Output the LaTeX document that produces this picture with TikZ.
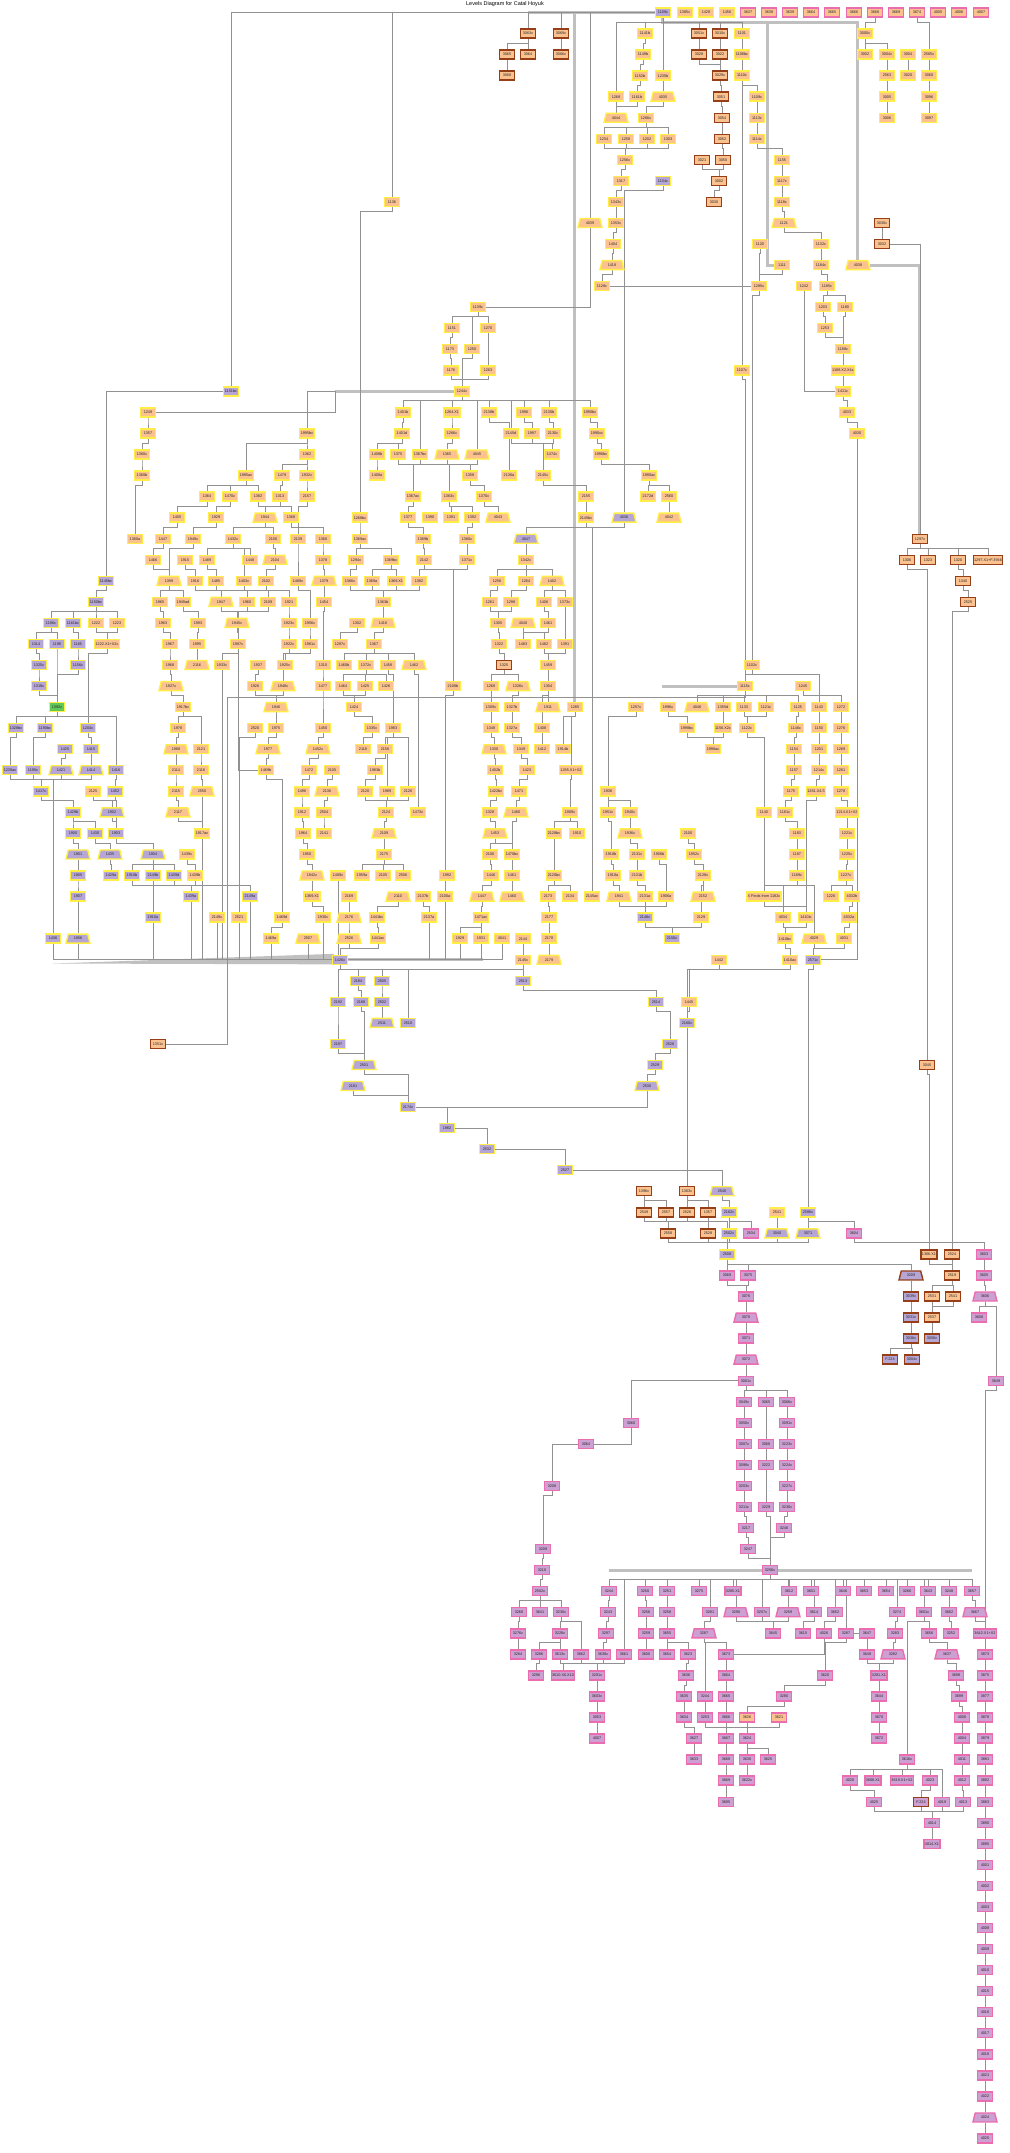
\documentclass[tikz,border=0pt]{standalone}
\usepackage{fontspec}
\setmainfont{Liberation Sans}
\usetikzlibrary{shapes.geometric}
\pgfdeclarelayer{background}
\pgfsetlayers{background,main}
\definecolor{corg}{RGB}{251,194,144}
\definecolor{cyel}{RGB}{255,238,70}
\definecolor{cpur}{RGB}{182,166,214}
\definecolor{clav}{RGB}{204,160,210}
\definecolor{cpnk}{RGB}{236,108,176}
\definecolor{cbrn}{RGB}{150,62,24}
\definecolor{cgrn}{RGB}{96,200,88}
\definecolor{cedge}{RGB}{145,145,145}
\definecolor{cbus}{RGB}{192,192,192}
\newcommand\mkn[5]{\node[#1] (#2) at (#3,#4) {#5};}
\newcommand\lnk[2]{\draw[ed] (#1.south) -- ++(0,0.2) -| (#2.north);}
\tikzset{
 nb/.style={rectangle, minimum width=15pt, minimum height=9pt, inner sep=0.8pt, line width=1.4pt, font=\fontsize{3.8}{4}\selectfont, text=black!85},
 trap/.style={trapezium, trapezium angle=62, trapezium stretches body, minimum width=24pt},
 so/.style={nb, fill=corg, draw=cyel},
 sot/.style={so, trap},
 sp/.style={nb, fill=cpur, draw=cyel},
 spt/.style={sp, trap},
 sg/.style={nb, fill=cgrn, draw=cyel},
 sb/.style={nb, fill=corg, draw=cbrn},
 sbp/.style={nb, fill=cpur, draw=cbrn},
 sbt/.style={sbp, trap},
 sk/.style={nb, fill=clav, draw=cpnk},
 skt/.style={sk, trap},
 sko/.style={nb, fill=corg, draw=cpnk},
 skb/.style={nb, fill=clav, draw=cbrn},
 ed/.style={draw=cedge, line width=0.6pt},
 bus/.style={draw=cbus, line width=3pt},
}
\begin{document}
\begin{tikzpicture}[x=1pt, y=-21.05pt]
\useasboundingbox (0,-0.594) rectangle (1010,101.69);
\node[font=\fontsize{5.5}{6}\selectfont] (title) at (505,-0.42) {Levels Diagram for Catal Hoyuk};
% r0
\mkn{sp}{n1109c}{663}{0}{1109c}
\mkn{so}{n1385c}{685}{0}{1385c}\mkn{so}{n1428}{706}{0}{1428}\mkn{so}{n1456}{727}{0}{1456}
\mkn{sko}{n3637}{748}{0}{3637}\mkn{sko}{n3638}{769}{0}{3638}\mkn{sko}{n3639}{790}{0}{3639}
\mkn{sko}{n3664}{811}{0}{3664}\mkn{sko}{n3665}{832}{0}{3665}\mkn{sko}{n3666}{854}{0}{3666}
\mkn{sko}{n3668}{875}{0}{3668}\mkn{sko}{n3669}{896}{0}{3669}\mkn{sko}{n3674}{917}{0}{3674}
\mkn{sko}{n4005}{938}{0}{4005}\mkn{sko}{n4006}{959}{0}{4006}\mkn{sko}{n4007}{981}{0}{4007}
% r1
\mkn{sb}{n3063c}{528}{1}{3063c}\mkn{sb}{n3069c}{561}{1}{3069c}\mkn{so}{n1141b}{645}{1}{1141b}
\mkn{sb}{n3051c}{699}{1}{3051c}\mkn{sb}{n3010c}{720}{1}{3010c}\mkn{so}{n1101}{742}{1}{1101}\mkn{so}{n3000c}{865}{1}{3000c}
% r2
\mkn{sb}{n3065}{507}{2}{3065}\mkn{sb}{n3064}{528}{2}{3064}\mkn{sb}{n3066c}{561}{2}{3066c}\mkn{so}{n1149b}{643}{2}{1149b}
\mkn{sb}{n3028}{699}{2}{3028}\mkn{sb}{n3022}{720}{2}{3022}\mkn{so}{n1108bc}{742}{2}{1108bc}\mkn{so}{n3002}{865}{2}{3002}
\mkn{so}{n3004c}{887}{2}{3004c}\mkn{so}{n3004}{908}{2}{3004}\mkn{so}{n2565c}{929}{2}{2565c}
% r3
\mkn{sb}{n3068}{507}{3}{3068}\mkn{so}{n1152b}{640}{3}{1152b}\mkn{so}{n1235b}{663}{3}{1235b}\mkn{sb}{n3029c}{720}{3}{3029c}
\mkn{so}{n1110c}{742}{3}{1110c}\mkn{so}{n2563}{887}{3}{2563}\mkn{so}{n3020}{908}{3}{3020}\mkn{so}{n3060}{929}{3}{3060}
% r4
\mkn{so}{n1268}{616}{4}{1268}\mkn{so}{n1161b}{637}{4}{1161b}\mkn{sot}{n4035}{663}{4}{4035}\mkn{sb}{n3051}{721}{4}{3051}
\mkn{so}{n1109cb}{757}{4}{1109c}\mkn{so}{n3005}{887}{4}{3005}\mkn{so}{n3096}{929}{4}{3096}
% r5
\mkn{sot}{n4044}{616}{5}{4044}\mkn{so}{n1266c}{646}{5}{1266c}\mkn{sb}{n3054}{722}{5}{3054}\mkn{so}{n1113c}{757}{5}{1113c}
\mkn{so}{n3006}{887}{5}{3006}\mkn{so}{n3097}{929}{5}{3097}
% r6
\mkn{so}{n1234}{604}{6}{1234}\mkn{so}{n1258}{626}{6}{1258}\mkn{so}{n1202}{647}{6}{1202}\mkn{so}{n1303}{668}{6}{1303}
\mkn{sb}{n3052}{722}{6}{3052}\mkn{so}{n1114c}{757}{6}{1114c}
% r7
\mkn{so}{n1256c}{625}{7}{1256c}\mkn{sb}{n3021}{702}{7}{3021}\mkn{sb}{n3050}{723}{7}{3050}\mkn{so}{n1155}{782}{7}{1155}
% r8
\mkn{so}{n1317}{621}{8}{1317}\mkn{sp}{n1134c}{663}{8}{1134c}\mkn{sb}{n3002b}{719}{8}{3002}\mkn{so}{n1117c}{782}{8}{1117c}
% r9
\mkn{so}{n1136}{392}{9}{1136}\mkn{so}{n1343c}{616}{9}{1343c}\mkn{sb}{n3030}{714}{9}{3030}\mkn{so}{n1118c}{782}{9}{1118c}
% r10
\mkn{sot}{n4039}{590}{10}{4039}\mkn{so}{n1353c}{616}{10}{1353c}\mkn{sot}{n1121}{784}{10}{1121}\mkn{sb}{n3030c}{882}{10}{3030c}
% r11
\mkn{so}{n1404}{613}{11}{1404}\mkn{so}{n1120}{760}{11}{1120}\mkn{so}{n1132c}{821}{11}{1132c}\mkn{sb}{n3032}{882}{11}{3032}
% r12
\mkn{sot}{n1418}{612}{12}{1418}\mkn{so}{n1111}{782}{12}{1111}\mkn{so}{n1184c}{821}{12}{1184c}\mkn{sot}{n4038}{858}{12}{4038}
% r13
\mkn{so}{n1128c}{602}{13}{1128c}\mkn{so}{n1285c}{759}{13}{1285c}\mkn{so}{n1242}{804}{13}{1242}\mkn{so}{n1185c}{827}{13}{1185c}
% r14-18
\mkn{so}{n1139c}{478}{14}{1139c}\mkn{so}{n1203}{823}{14}{1203}\mkn{so}{n1180}{845}{14}{1180}
\mkn{so}{n1151}{452}{15}{1151}\mkn{so}{n1270}{488}{15}{1270}\mkn{so}{n1253}{825}{15}{1253}
\mkn{so}{n1173}{450}{16}{1173}\mkn{so}{n1250}{472}{16}{1250}\mkn{so}{n1188c}{843}{16}{1188c}
\mkn{so}{n1176}{451}{17}{1176}\mkn{so}{n1263}{488}{17}{1263}\mkn{so}{n1107c}{742}{17}{1107c}\mkn{so}{n1188X}{843}{17}{1188.X2.X4c}
\mkn{sp}{n1151bc}{231}{18}{1151bc}\mkn{so}{n1244c}{462}{18}{1244c}\mkn{so}{n1411c}{843}{18}{1411c}
% r19
\mkn{so}{n1249}{148}{19}{1249}\mkn{so}{n1401b}{403}{19}{1401b}\mkn{so}{n1264X1}{452}{19}{1264.X1}\mkn{so}{n2138b}{489}{19}{2138b}
\mkn{so}{n1996}{524}{19}{1996}\mkn{so}{n2130b}{549}{19}{2130b}\mkn{so}{n1990bc}{590}{19}{1990bc}\mkn{so}{n4033}{847}{19}{4033}
% r20
\mkn{so}{n1357}{148}{20}{1357}\mkn{so}{n1995bc}{307}{20}{1995bc}\mkn{so}{n1401d}{402}{20}{1401d}\mkn{so}{n1266cb}{452}{20}{1266c}
\mkn{so}{n2145d}{511}{20}{2145d}\mkn{so}{n1997}{532}{20}{1997}\mkn{so}{n2130c}{553}{20}{2130c}\mkn{so}{n1990cc}{597}{20}{1990cc}\mkn{so}{n4030}{857}{20}{4030}
% r21
\mkn{so}{n1360c}{142}{21}{1360c}\mkn{so}{n1362}{307}{21}{1362}\mkn{so}{n1408b}{377}{21}{1408b}\mkn{so}{n1375}{398}{21}{1375}
\mkn{so}{n1367bc}{420}{21}{1367bc}\mkn{sot}{n1365}{447}{21}{1365}\mkn{sot}{n4045}{477}{21}{4045}\mkn{so}{n1474c}{552}{21}{1474c}\mkn{so}{n1996bc}{601}{21}{1996bc}
% r22
\mkn{so}{n1360b}{142}{22}{1360b}\mkn{so}{n1995ac}{246}{22}{1995ac}\mkn{so}{n1479}{282}{22}{1479}\mkn{so}{n1932c}{307}{22}{1932c}
\mkn{so}{n1408a}{377}{22}{1408a}\mkn{so}{n1358}{470}{22}{1358}\mkn{so}{n2136a}{509}{22}{2136a}\mkn{so}{n2145c}{543}{22}{2145c}\mkn{so}{n1990ac}{649}{22}{1990ac}
% r23
\mkn{so}{n1364}{207}{23}{1364}\mkn{so}{n1470c}{230}{23}{1470c}\mkn{so}{n1382}{258}{23}{1382}\mkn{so}{n1313}{280}{23}{1313}
\mkn{so}{n2157}{307}{23}{2157}\mkn{so}{n1367ac}{413}{23}{1367ac}\mkn{so}{n1363c}{449}{23}{1363c}\mkn{so}{n1370c}{484}{23}{1370c}
\mkn{so}{n2155}{586}{23}{2155}\mkn{so}{n2172d}{648}{23}{2172d}\mkn{so}{n2560}{669}{23}{2560}
% r24
\mkn{so}{n1405}{177}{24}{1405}\mkn{so}{n1929}{216}{24}{1929}\mkn{sot}{n1944}{265}{24}{1944}\mkn{so}{n1368}{291}{24}{1368}
\mkn{so}{n1268bc}{360}{24}{1268bc}\mkn{so}{n1377}{408}{24}{1377}\mkn{so}{n1390}{430}{24}{1390}\mkn{so}{n1391}{451}{24}{1391}
\mkn{so}{n1392}{472}{24}{1392}\mkn{sot}{n4043}{498}{24}{4043}\mkn{so}{n2145bc}{586}{24}{2145bc}\mkn{spt}{n4036}{624}{24}{4036}\mkn{sot}{n4042}{669}{24}{4042}
% r25
\mkn{so}{n1360a}{135}{25}{1360a}\mkn{so}{n1447}{163}{25}{1447}\mkn{so}{n1949c}{193}{25}{1949c}\mkn{so}{n1432c}{233}{25}{1432c}
\mkn{so}{n2100}{273}{25}{2100}\mkn{so}{n2139}{298}{25}{2139}\mkn{so}{n1360}{323}{25}{1360}\mkn{so}{n1369ac}{360}{25}{1369ac}
\mkn{so}{n1369b}{423}{25}{1369b}\mkn{so}{n1360cc}{467}{25}{1360c}\mkn{spt}{n4047}{526}{25}{4047}\mkn{sb}{n1297c}{920}{25}{1297c}
% r26
\mkn{so}{n1466}{153}{26}{1466}\mkn{so}{n1915}{185}{26}{1915}\mkn{so}{n1489}{207}{26}{1489}\mkn{so}{n1448}{250}{26}{1448}
\mkn{sot}{n2104}{275}{26}{2104}\mkn{so}{n1378}{323}{26}{1378}\mkn{so}{n1294c}{356}{26}{1294c}\mkn{so}{n1369bc}{391}{26}{1369bc}
\mkn{so}{n2142}{424}{26}{2142}\mkn{so}{n1371c}{467}{26}{1371c}\mkn{so}{n1342c}{526}{26}{1342c}
\mkn{sb}{n1306}{907}{26}{1306}\mkn{sb}{n1323}{928}{26}{1323}\mkn{sb}{n1320}{958}{26}{1320}\mkn{sb}{n1297X}{988}{26}{1297.X1+F.3946}
% r27
\mkn{sp}{n1145bc}{106}{27}{1145bc}\mkn{sot}{n1399}{169}{27}{1399}\mkn{so}{n1916}{195}{27}{1916}\mkn{so}{n1485}{216}{27}{1485}
\mkn{so}{n1403c}{244}{27}{1403c}\mkn{so}{n2102}{266}{27}{2102}\mkn{so}{n1469c}{298}{27}{1469c}\mkn{sot}{n1379}{324}{27}{1379}
\mkn{so}{n1366c}{350}{27}{1366c}\mkn{so}{n1369a}{372}{27}{1369a}\mkn{so}{n1369X1}{396}{27}{1369.X1}\mkn{so}{n1382b}{419}{27}{1382}
\mkn{so}{n1256}{497}{27}{1256}\mkn{so}{n1264}{526}{27}{1264}\mkn{sot}{n1402}{552}{27}{1402}\mkn{sb}{n1340}{963}{27}{1340}
% r28
\mkn{sp}{n1150bc}{96}{28}{1150bc}\mkn{so}{n1965}{160}{28}{1965}\mkn{so}{n1949ad}{183}{28}{1949ad}\mkn{sot}{n1947}{221}{28}{1947}
\mkn{so}{n1960}{247}{28}{1960}\mkn{so}{n2109}{268}{28}{2109}\mkn{so}{n1921}{289}{28}{1921}\mkn{so}{n1454}{324}{28}{1454}
\mkn{so}{n1363b}{383}{28}{1363b}\mkn{so}{n1261}{490}{28}{1261}\mkn{so}{n1298}{511}{28}{1298}\mkn{so}{n1406}{544}{28}{1406}
\mkn{so}{n1373c}{565}{28}{1373c}\mkn{sb}{n2525}{968}{28}{2525}
% r29
\mkn{sp}{n1196c}{51}{29}{1196c}\mkn{sp}{n1161bc}{73}{29}{1161bc}\mkn{so}{n1222}{96}{29}{1222}\mkn{so}{n1223}{117}{29}{1223}
\mkn{so}{n1963}{163}{29}{1963}\mkn{so}{n1993}{198}{29}{1993}\mkn{sot}{n1945c}{237}{29}{1945c}\mkn{so}{n1923c}{289}{29}{1923c}
\mkn{so}{n1956c}{310}{29}{1956c}\mkn{so}{n1302}{357}{29}{1302}\mkn{sot}{n1416}{383}{29}{1416}\mkn{so}{n1305}{498}{29}{1305}
\mkn{sot}{n4040}{523}{29}{4040}\mkn{so}{n1461}{548}{29}{1461}
% r30
\mkn{sp}{n1314}{36}{30}{1314}\mkn{sp}{n1198}{57}{30}{1198}\mkn{sp}{n1165}{78}{30}{1165}\mkn{so}{n1222X}{107}{30}{1222.X1+X2c}
\mkn{so}{n1967}{170}{30}{1967}\mkn{so}{n1995}{197}{30}{1995}\mkn{so}{n1987c}{238}{30}{1987c}\mkn{so}{n1922c}{289}{30}{1922c}
\mkn{so}{n1961c}{310}{30}{1961c}\mkn{so}{n1287c}{340}{30}{1287c}\mkn{so}{n1367}{374}{30}{1367}\mkn{so}{n1322}{499}{30}{1322}
\mkn{so}{n1483}{523}{30}{1483}\mkn{so}{n1482}{544}{30}{1482}\mkn{so}{n1391b}{565}{30}{1391}
% r31
\mkn{sp}{n1325c}{39}{31}{1325c}\mkn{sp}{n1156c}{78}{31}{1156c}\mkn{so}{n1968}{170}{31}{1968}\mkn{sot}{n2116}{197}{31}{2116}
\mkn{so}{n1933c}{222}{31}{1933c}\mkn{so}{n1937}{258}{31}{1937}\mkn{so}{n1925c}{285}{31}{1925c}\mkn{so}{n1310}{323}{31}{1310}
\mkn{so}{n1460b}{344}{31}{1460b}\mkn{so}{n1372c}{366}{31}{1372c}\mkn{so}{n1458}{388}{31}{1458}\mkn{sot}{n1462}{414}{31}{1462}
\mkn{sb}{n1325}{504}{31}{1325}\mkn{so}{n1459}{548}{31}{1459}\mkn{so}{n1102c}{752}{31}{1102c}
% r32
\mkn{sp}{n1318c}{39}{32}{1318c}\mkn{sot}{n1927c}{171}{32}{1927c}\mkn{so}{n1926}{255}{32}{1926}\mkn{sot}{n1948c}{283}{32}{1948c}
\mkn{so}{n1477}{323}{32}{1477}\mkn{so}{n1464}{343}{32}{1464}\mkn{so}{n1425}{365}{32}{1425}\mkn{so}{n1426}{386}{32}{1426}
\mkn{so}{n2108b}{453}{32}{2108b}\mkn{so}{n1288}{491}{32}{1268}\mkn{sot}{n1326c}{518}{32}{1326c}\mkn{so}{n1304}{548}{32}{1304}
\mkn{so}{n1115c}{745}{32}{1115c}\mkn{so}{n1245}{803}{32}{1245}
% r33
\mkn{sg}{n1392c}{57}{33}{1392c}\mkn{so}{n1917bc}{183}{33}{1917bc}\mkn{sot}{n1946}{276}{33}{1946}\mkn{so}{n1424}{354}{33}{1424}
\mkn{so}{n1309c}{491}{33}{1309c}\mkn{so}{n1327b}{512}{33}{1327b}\mkn{sot}{n1911}{548}{33}{1911}\mkn{so}{n1285}{575}{33}{1285}
\mkn{so}{n1257c}{636}{33}{1257c}\mkn{so}{n1996c}{668}{33}{1996c}\mkn{sot}{n4046}{697}{33}{4046}\mkn{so}{n1355d}{723}{33}{1355d}
\mkn{so}{n1133}{744}{33}{1133}\mkn{so}{n1121c}{766}{33}{1121c}\mkn{so}{n1125}{798}{33}{1125}\mkn{so}{n1143}{819}{33}{1143}\mkn{so}{n1272}{841}{33}{1272}
% r34
\mkn{sp}{n1328bc}{16}{34}{1328bc}\mkn{sp}{n1190bc}{45}{34}{1190bc}\mkn{sp}{n1204c}{88}{34}{1204c}\mkn{so}{n1978}{178}{34}{1978}
\mkn{so}{n2520}{255}{34}{2520}\mkn{so}{n1975}{276}{34}{1975}\mkn{so}{n1450}{323}{34}{1450}\mkn{so}{n1335c}{372}{34}{1335c}
\mkn{so}{n1983}{393}{34}{1983}\mkn{so}{n1348}{491}{34}{1348}\mkn{so}{n1327a}{512}{34}{1327a}\mkn{so}{n1408}{542}{34}{1408}
\mkn{so}{n1998bc}{687}{34}{1998bc}\mkn{so}{n1156X2c}{723}{34}{1156.X2c}\mkn{so}{n1122c}{747}{34}{1122c}\mkn{so}{n1146c}{796}{34}{1146c}
\mkn{so}{n1150}{819}{34}{1150}\mkn{so}{n1276}{841}{34}{1276}
% r35
\mkn{sp}{n1425p}{65}{35}{1425}\mkn{sp}{n1415}{91}{35}{1415}\mkn{sot}{n1988}{176}{35}{1988}\mkn{so}{n2121}{201}{35}{2121}
\mkn{sot}{n1977}{268}{35}{1977}\mkn{sot}{n1452c}{318}{35}{1452c}\mkn{so}{n2118}{363}{35}{2118}\mkn{so}{n2156}{385}{35}{2156}
\mkn{sot}{n1330}{494}{35}{1330}\mkn{so}{n1349}{521}{35}{1349}\mkn{so}{n1412}{542}{35}{1412}\mkn{so}{n1914b}{563}{35}{1914b}
\mkn{so}{n1998ac}{713}{35}{1998ac}\mkn{so}{n1154}{794}{35}{1154}\mkn{so}{n1201}{819}{35}{1201}\mkn{so}{n1269}{841}{35}{1269}
% r36
\mkn{sp}{n1230ac}{10}{36}{1230ac}\mkn{sp}{n1195c}{33}{36}{1195c}\mkn{spt}{n1421}{61}{36}{1421}\mkn{spt}{n1414}{91}{36}{1414}
\mkn{sp}{n1416p}{116}{36}{1416}\mkn{so}{n2114}{176}{36}{2114}\mkn{so}{n2118b}{201}{36}{2118}\mkn{so}{n1469b}{266}{36}{1469b}
\mkn{so}{n1472}{309}{36}{1472}\mkn{so}{n2105}{332}{36}{2105}\mkn{so}{n1983b}{375}{36}{1983b}\mkn{so}{n1402b}{495}{36}{1402b}
\mkn{so}{n1423}{527}{36}{1423}\mkn{so}{n1285X}{571}{36}{1285.X1+X2}\mkn{so}{n1157}{794}{36}{1157}\mkn{so}{n1214c}{819}{36}{1214c}\mkn{so}{n1281}{841}{36}{1281}
% r37
\mkn{sp}{n1417c}{41}{37}{1417c}\mkn{so}{n2125}{93}{37}{2125}\mkn{sp}{n1452}{115}{37}{1452}\mkn{so}{n2115}{176}{37}{2115}
\mkn{sot}{n2550}{202}{37}{2550}\mkn{so}{n1496}{302}{37}{1496}\mkn{sot}{n2136}{327}{37}{2136}\mkn{so}{n2120}{365}{37}{2120}
\mkn{so}{n1989}{387}{37}{1989}\mkn{so}{n2126}{408}{37}{2126}\mkn{so}{n1422bc}{496}{37}{1422bc}\mkn{so}{n1471}{519}{37}{1471}
\mkn{so}{n1936}{608}{37}{1936}\mkn{so}{n1175}{791}{37}{1175}\mkn{so}{n1281X}{816}{37}{1281.X4.5}\mkn{so}{n1278}{841}{37}{1278}
% r38
\mkn{sp}{n1429b}{73}{38}{1429b}\mkn{spt}{n1902}{112}{38}{1902}\mkn{sot}{n2117}{178}{38}{2117}\mkn{so}{n1912}{302}{38}{1912}
\mkn{so}{n2504}{324}{38}{2504}\mkn{so}{n2124}{386}{38}{2124}\mkn{so}{n1473c}{418}{38}{1473c}\mkn{so}{n1328}{490}{38}{1328}
\mkn{sot}{n1480}{516}{38}{1480}\mkn{so}{n1909c}{570}{38}{1909c}\mkn{so}{n1951c}{608}{38}{1951c}\mkn{so}{n1940c}{630}{38}{1940c}
\mkn{so}{n1140}{764}{38}{1140}\mkn{so}{n1181c}{785}{38}{1181c}\mkn{so}{n1214X}{847}{38}{1214.X1+X2}
% r39
\mkn{sp}{n1900}{73}{39}{1900}\mkn{sp}{n1430}{95}{39}{1430}\mkn{sp}{n1903}{116}{39}{1903}\mkn{so}{n1917ac}{202}{39}{1917ac}
\mkn{so}{n1964}{303}{39}{1964}\mkn{so}{n2141}{324}{39}{2141}\mkn{sot}{n2109b}{384}{39}{2109}\mkn{sot}{n1453}{495}{39}{1453}
\mkn{so}{n2128bc}{554}{39}{2128bc}\mkn{so}{n1910}{577}{39}{1910}\mkn{sot}{n1936c}{630}{39}{1936c}\mkn{so}{n2100b}{688}{39}{2100}
\mkn{so}{n1183}{797}{39}{1183}\mkn{so}{n1221c}{847}{39}{1221c}
% r40
\mkn{spt}{n1901}{78}{40}{1901}\mkn{spt}{n1435}{110}{40}{1435}\mkn{spt}{n1904}{153}{40}{1904}\mkn{so}{n1439c}{187}{40}{1439c}
\mkn{so}{n1950}{307}{40}{1950}\mkn{so}{n2175}{384}{40}{2175}\mkn{so}{n2106}{490}{40}{2106}\mkn{so}{n1470bc}{512}{40}{1470bc}
\mkn{so}{n1918b}{611}{40}{1918b}\mkn{so}{n2131c}{637}{40}{2131c}\mkn{so}{n1906b}{659}{40}{1906b}\mkn{so}{n1952c}{694}{40}{1952c}
\mkn{so}{n1187}{797}{40}{1187}\mkn{so}{n1225c}{847}{40}{1225c}
% r41
\mkn{sp}{n1905}{78}{41}{1905}\mkn{sp}{n1429a}{111}{41}{1429a}\mkn{sp}{n1910b}{132}{41}{1910b}\mkn{sp}{n2149b}{153}{41}{2149b}
\mkn{sp}{n1439d}{174}{41}{1439d}\mkn{so}{n1439b}{195}{41}{1439b}\mkn{sot}{n1942c}{312}{41}{1942c}\mkn{so}{n1409c}{338}{41}{1409c}
\mkn{so}{n1959a}{362}{41}{1959a}\mkn{so}{n2105b}{383}{41}{2105}\mkn{so}{n2506}{403}{41}{2506}\mkn{so}{n1992}{447}{41}{1992}
\mkn{so}{n1446}{491}{41}{1446}\mkn{so}{n1461b}{512}{41}{1461}\mkn{so}{n2120bc}{554}{41}{2120bc}\mkn{so}{n1918a}{613}{41}{1918a}
\mkn{so}{n2131b}{637}{41}{2131b}\mkn{so}{n2128c}{703}{41}{2128c}\mkn{so}{n1189c}{797}{41}{1189c}\mkn{so}{n1227c}{846}{41}{1227c}
% r42
\mkn{sp}{n1907}{78}{42}{1907}\mkn{sp}{n1439a}{191}{42}{1439a}\mkn{sp}{n2149a}{250}{42}{2149a}\mkn{so}{n1369X1b}{312}{42}{1369.X1}
\mkn{so}{n2169}{349}{42}{2169}\mkn{sot}{n2110}{398}{42}{2110}\mkn{so}{n2137b}{423}{42}{2137b}\mkn{so}{n2100a}{445}{42}{2100a}
\mkn{sot}{n1447b}{482}{42}{1447}\mkn{sot}{n1460}{512}{42}{1460}\mkn{so}{n2173}{548}{42}{2173}\mkn{so}{n2134}{570}{42}{2134}
\mkn{so}{n2145ac}{592}{42}{2145ac}\mkn{sot}{n1941}{619}{42}{1941}\mkn{so}{n2131a}{645}{42}{2131a}\mkn{so}{n1906a}{666}{42}{1906a}
\mkn{sot}{n2152}{703}{42}{2152}\mkn{so}{n1182X}{764}{42}{X Finds from 1182c}\mkn{so}{n1226}{831}{42}{1226}\mkn{so}{n4032b}{852}{42}{4032b}
% r43
\mkn{sp}{n1910a}{153}{43}{1910a}\mkn{so}{n2149c}{217}{43}{2149c}\mkn{so}{n2521}{239}{43}{2521}\mkn{so}{n1469d}{282}{43}{1469d}
\mkn{so}{n1930c}{323}{43}{1930c}\mkn{sot}{n2176}{349}{43}{2176}\mkn{so}{n1441bc}{377}{43}{1441bc}\mkn{so}{n2137a}{429}{43}{2137a}
\mkn{so}{n1471ac}{481}{43}{1471ac}\mkn{so}{n2177}{549}{43}{2177}\mkn{sp}{n2148c}{645}{43}{2148c}\mkn{so}{n2129}{701}{43}{2129}
\mkn{so}{n4034}{783}{43}{4034}\mkn{so}{n1410ic}{806}{43}{1410ic}\mkn{so}{n4032a}{849}{43}{4032a}
% r44
\mkn{sp}{n1436}{53}{44}{1436}\mkn{spt}{n1906}{78}{44}{1906}\mkn{so}{n1469a}{271}{44}{1469a}\mkn{sot}{n2507}{308}{44}{2507}
\mkn{sot}{n2526}{349}{44}{2526}\mkn{so}{n1441ac}{378}{44}{1441ac}\mkn{so}{n1929b}{460}{44}{1929}\mkn{so}{n1931}{481}{44}{1931}
\mkn{so}{n4041}{502}{44}{4041}\mkn{so}{n2144}{523}{44}{2144}\mkn{so}{n2178}{549}{44}{2178}\mkn{sp}{n2150c}{672}{44}{2150c}
\mkn{so}{n1410bc}{785}{44}{1410bc}\mkn{sot}{n4029}{814}{44}{4029}\mkn{so}{n4031}{844}{44}{4031}
% r45-55
\mkn{sp}{n1426c}{340}{45}{1426c}\mkn{so}{n2145cc}{523}{45}{2145c}\mkn{sot}{n2179}{549}{45}{2179}\mkn{so}{n1442}{719}{45}{1442}
\mkn{so}{n1410ac}{790}{45}{1410ac}\mkn{sp}{n2571c}{813}{45}{2571c}
\mkn{sp}{n2184}{358}{46}{2184}\mkn{sp}{n2505}{382}{46}{2505}\mkn{sp}{n2513}{523}{46}{2513}
\mkn{sp}{n2192}{338}{47}{2192}\mkn{sp}{n2188}{361}{47}{2188}\mkn{sp}{n2502}{382}{47}{2502}\mkn{sp}{n2514}{656}{47}{2514}\mkn{so}{n1445}{689}{47}{1445}
\mkn{spt}{n2511}{382}{48}{2511}\mkn{sp}{n2510}{408}{48}{2510}\mkn{sp}{n2160c}{687}{48}{2160c}
\mkn{sb}{n1351c}{158}{49}{1351c}\mkn{sp}{n2197}{338}{49}{2197}\mkn{sp}{n2528}{670}{49}{2528}
\mkn{spt}{n2501}{364}{50}{2501}\mkn{sp}{n2529}{655}{50}{2529}\mkn{sb}{n3045}{927}{50}{3045}
\mkn{spt}{n2181}{353}{51}{2181}\mkn{spt}{n2530}{647}{51}{2530}
\mkn{sp}{n2174c}{408}{52}{2174c}
\mkn{sp}{n1982}{447}{53}{1982}
\mkn{sp}{n2532}{487}{54}{2532}
\mkn{sp}{n2527}{565}{55}{2527}
% r56-74
\mkn{sb}{n1396c}{644}{56}{1396c}\mkn{sb}{n1383c}{687}{56}{1363c}\mkn{spt}{n2540}{722}{56}{2540}
\mkn{sb}{n2549}{644}{57}{2549}\mkn{sb}{n2557}{666}{57}{2557}\mkn{sb}{n2526b}{687}{57}{2526}\mkn{sb}{n1357b}{708}{57}{1357}
\mkn{sp}{n2162c}{729}{57}{2162c}\mkn{so}{n2541}{777}{57}{2541}\mkn{sp}{n2586c}{808}{57}{2586c}
\mkn{sb}{n2558}{668}{58}{2558}\mkn{sb}{n2528b}{708}{58}{2528}\mkn{sp}{n2502c}{729}{58}{2502c}\mkn{sk}{n2534}{751}{58}{2534}
\mkn{spt}{n3040}{777}{58}{3040}\mkn{spt}{n3071}{808}{58}{3071}\mkn{sk}{n3604}{854}{58}{3604}
\mkn{sp}{n2508}{727}{59}{2508}\mkn{sb}{n1306X1}{929}{59}{1306.X1}\mkn{sb}{n2524}{952}{59}{2524}\mkn{sk}{n3603}{984}{59}{3603}
\mkn{sk}{n3069}{727}{60}{3069}\mkn{sk}{n3075}{748}{60}{3075}\mkn{sbt}{n3209t}{911}{60}{3209}\mkn{sb}{n2519}{952}{60}{2519}\mkn{sk}{n3605}{984}{60}{3605}
\mkn{sk}{n3076}{746}{61}{3076}\mkn{sbp}{n3039c}{911}{61}{3039c}\mkn{sb}{n2531}{932}{61}{2531}\mkn{sb}{n2541b}{953}{61}{2541}\mkn{skt}{n3606}{985}{61}{3606}
\mkn{skt}{n3070}{746}{62}{3070}\mkn{sbp}{n3031c}{911}{62}{3031c}\mkn{sb}{n2537}{932}{62}{2537}\mkn{sk}{n3608}{979}{62}{3608}
\mkn{sk}{n3071b}{746}{63}{3071}\mkn{sbp}{n3036c}{911}{63}{3036c}\mkn{sbp}{n3058c}{932}{63}{3058c}
\mkn{skt}{n3072}{746}{64}{3072}\mkn{sbp}{nF224}{890}{64}{F.224}\mkn{sbp}{n3004cb}{912}{64}{3004c}
\mkn{sk}{n3061c}{746}{65}{3061c}\mkn{sk}{n3649}{996}{65}{3649}
\mkn{sk}{n3049c}{744}{66}{3049c}\mkn{sk}{n3065b}{766}{66}{3065}\mkn{sk}{n3066cb}{787}{66}{3066c}
\mkn{sk}{n3060b}{631}{67}{3060}\mkn{sk}{n3050c}{744}{67}{3050c}\mkn{sk}{n3091c}{787}{67}{3091c}
\mkn{sk}{n3064b}{586}{68}{3064}\mkn{sk}{n3087c}{744}{68}{3087c}\mkn{sk}{n3068b}{766}{68}{3068}\mkn{sk}{n3223c}{787}{68}{3223c}
\mkn{sk}{n3098c}{744}{69}{3098c}\mkn{sk}{n3222}{766}{69}{3222}\mkn{sk}{n3224c}{787}{69}{3224c}
\mkn{sk}{n3208}{552}{70}{3208}\mkn{sk}{n3203c}{744}{70}{3203c}\mkn{sk}{n3227c}{787}{70}{3227c}
\mkn{sk}{n3211c}{744}{71}{3211c}\mkn{sk}{n3229}{766}{71}{3229}\mkn{sk}{n3230cb}{787}{71}{3230c}
\mkn{sk}{n3217}{746}{72}{3217}\mkn{sk}{n3246}{784}{72}{3246}
\mkn{sk}{n3209}{543}{73}{3209}\mkn{sk}{n3247}{748}{73}{3247}
\mkn{sk}{n3210}{542}{74}{3210}\mkn{sk}{n3256c}{770}{74}{3256c}
% r75
\mkn{sk}{n2562c}{540}{75}{2562c}\mkn{sk}{n3244}{609}{75}{3244}\mkn{sk}{n3250}{645}{75}{3250}\mkn{sk}{n3251}{667}{75}{3251}
\mkn{sk}{n3275}{699}{75}{3275}\mkn{sk}{n3285X1}{733}{75}{3285.X1}\mkn{sk}{n3612}{789}{75}{3612}\mkn{sk}{n3601}{811}{75}{3601}
\mkn{sk}{n3646}{843}{75}{3646}\mkn{sk}{n3653}{864}{75}{3653}\mkn{sk}{n3654}{886}{75}{3654}\mkn{sk}{n3266}{907}{75}{3266}
\mkn{sk}{n3643}{928}{75}{3643}\mkn{sk}{n3248}{949}{75}{3248}\mkn{sk}{n3657}{972}{75}{3657}
% r76
\mkn{sk}{n3268}{519}{76}{3268}\mkn{sk}{n3641}{540}{76}{3641}\mkn{sk}{n3230c}{561}{76}{3230c}\mkn{sk}{n3243}{608}{76}{3243}
\mkn{sk}{n3256}{646}{76}{3256}\mkn{sk}{n3258}{667}{76}{3258}\mkn{sk}{n3281}{710}{76}{3281}\mkn{skt}{n3290}{736}{76}{3290}
\mkn{sk}{n3257c}{762}{76}{3257c}\mkn{skt}{n3259}{788}{76}{3259}\mkn{sk}{n3614}{814}{76}{3614}\mkn{sk}{n3652}{835}{76}{3652}
\mkn{sk}{n3274}{897}{76}{3274}\mkn{sk}{n3601c}{924}{76}{3601c}\mkn{sk}{n3662}{949}{76}{3662}\mkn{skt}{n3667}{975}{76}{3667}
% r77
\mkn{sk}{n3276c}{518}{77}{3276c}\mkn{sk}{n3228c}{560}{77}{3228c}\mkn{sk}{n3297}{606}{77}{3297}\mkn{sk}{n3259b}{646}{77}{3259}
\mkn{sk}{n3655}{667}{77}{3655}\mkn{skt}{n3287t}{704}{77}{3287}\mkn{sk}{n3645}{773}{77}{3645}\mkn{sk}{n3615}{803}{77}{3615}
\mkn{sk}{n4026}{824}{77}{4026}\mkn{sk}{n3287}{846}{77}{3287}\mkn{sk}{n3647}{867}{77}{3647}\mkn{sk}{n3283}{895}{77}{3283}
\mkn{sk}{n3656}{929}{77}{3656}\mkn{sk}{n3252}{951}{77}{3252}\mkn{sk}{n3642X}{985}{77}{3642.X1+X2}
% r78
\mkn{sk}{n3284}{518}{78}{3284}\mkn{sk}{n3286}{539}{78}{3286}\mkn{sk}{n3613c}{560}{78}{3613c}\mkn{sk}{n3662b}{581}{78}{3662}
\mkn{sk}{n3638c}{603}{78}{3638c}\mkn{sk}{n3661}{624}{78}{3661}\mkn{sk}{n3600}{646}{78}{3600}\mkn{sk}{n3654b}{667}{78}{3654}
\mkn{sk}{n3623}{688}{78}{3623}\mkn{sk}{n3673}{726}{78}{3673}\mkn{sk}{n3648}{867}{78}{3648}\mkn{skt}{n3282}{893}{78}{3282}
\mkn{skt}{n3637b}{947}{78}{3637}\mkn{sk}{n3873}{985}{78}{3873}
% r79
\mkn{sk}{n3296}{536}{79}{3296}\mkn{sk}{n3610X}{563}{79}{3610.X6.X10}\mkn{sk}{n3291c}{597}{79}{3291c}\mkn{sk}{n3636}{686}{79}{3636}
\mkn{sk}{n3664b}{726}{79}{3664}\mkn{sk}{n3620}{825}{79}{3620}\mkn{sk}{n3281X1}{879}{79}{3281.X1}\mkn{sk}{n3698}{956}{79}{3698}\mkn{sk}{n3875}{985}{79}{3875}
% r80
\mkn{sk}{n3603c}{597}{80}{3603c}\mkn{sk}{n3635}{684}{80}{3635}\mkn{sk}{n3244b}{705}{80}{3244}\mkn{sk}{n3665b}{726}{80}{3665}
\mkn{sk}{n3280}{784}{80}{3280}\mkn{sk}{n3644}{879}{80}{3644}\mkn{sk}{n3699}{959}{80}{3699}\mkn{sk}{n3877}{985}{80}{3877}
% r81
\mkn{sk}{n3053}{597}{81}{3053}\mkn{sk}{n3634}{684}{81}{3634}\mkn{sk}{n3253}{705}{81}{3253}\mkn{sk}{n3666b}{726}{81}{3666}
\mkn{sko}{n3626}{747}{81}{3626}\mkn{sko}{n3621}{779}{81}{3621}\mkn{sk}{n3670}{879}{81}{3670}\mkn{sk}{n4000}{962}{81}{4000}\mkn{sk}{n3878}{985}{81}{3878}
% r82
\mkn{sk}{n4007b}{597}{82}{4007}\mkn{sk}{n3627}{694}{82}{3627}\mkn{sk}{n3667b}{726}{82}{3667}\mkn{sk}{n3624}{747}{82}{3624}
\mkn{sk}{n3672}{879}{82}{3672}\mkn{sk}{n4004}{962}{82}{4004}\mkn{sk}{n3879}{985}{82}{3879}
% r83
\mkn{sk}{n3633}{694}{83}{3633}\mkn{sk}{n3668b}{726}{83}{3668}\mkn{sk}{n3630}{747}{83}{3630}\mkn{sk}{n3625}{768}{83}{3625}
\mkn{sk}{n3616c}{907}{83}{3616c}\mkn{sk}{n4011}{962}{83}{4011}\mkn{sk}{n3881}{985}{83}{3881}
% r84
\mkn{sk}{n3669b}{726}{84}{3669}\mkn{sk}{n3622c}{747}{84}{3622c}\mkn{sk}{n4020}{850}{84}{4020}\mkn{sk}{n3608X1}{873}{84}{3608.X1}
\mkn{sk}{n3619X}{902}{84}{3619.X1+X2}\mkn{sk}{n4023}{930}{84}{4023}\mkn{sk}{n4012}{962}{84}{4012}\mkn{sk}{n3882}{985}{84}{3882}
% r85-87
\mkn{sk}{n3695}{726}{85}{3695}\mkn{sk}{n4025b}{874}{85}{4025}\mkn{skb}{nF224b}{921}{85}{F.224}\mkn{sk}{n4019}{942}{85}{4019}
\mkn{sk}{n4013}{963}{85}{4013}\mkn{sk}{n3883}{985}{85}{3883}
\mkn{sk}{n4014}{932}{86}{4014}\mkn{sk}{n3890}{985}{86}{3890}
\mkn{sk}{n4014X1}{932}{87}{4014.X1}\mkn{sk}{n3895}{985}{87}{3895}
\foreach \l [count=\i from 88] in {4001,4002,4003,4008,4009,4010,4015,4016,4017,4018,4021,4022} {\node[sk] (n\l) at (985,\i) {\l};}
\mkn{skt}{n4024}{985}{100}{4024}\mkn{sk}{n4025}{985}{101}{4025}
\coordinate (tb) at (528,0);
\coordinate (bx) at (768,0.46);
\coordinate (bus18) at (335,18);
\coordinate (c1351) at (227,32.55);
\coordinate (w1) at (53,45.18);
\coordinate (w2) at (334,44.72);
\coordinate (w3) at (334,45.22);
\begin{pgfonlayer}{background}
% buses
\draw[bus] (tb) -- (n1109c.west);
\draw[bus] (n1109c.west) -| (n1285.north);
\draw[bus] (n1109c.south) |- (bx) |- (n1111.west);
\draw[bus] (n1109c.south) |- (bx) -| (n4038.north);
\draw[bus] (n4038.east) -| (n1297c.north);
\draw[bus] (n1244c.west) -- (bus18);
\draw[bus] (n1115c.west) -- ++(-75,0);
\draw[bus] (n1426c.east) -- ++(135,0);
\fill[cbus] (w1) -- (w2) -- (w3) -- cycle;
\draw[bus] (n3256c.west) -- (n3244.north |- n3256c.west);
\draw[bus] (n3256c.east) -- (n3657.north |- n3256c.east);
% special edges
\draw[ed] (n1151bc.north) |- (n1109c.west);
\draw[ed] (n1136.north) |- (n1109c.west);
\draw[ed] (n3063c.north) |- (n1109c.west);
\draw[ed] (n3069c.north) |- (n1109c.west);
\draw[ed] (n4039.north) |- (n1109c.west);
\draw[ed] (n4039.south) |- (n1139c.east);
\draw[ed] (n1128c.east) -- (n1285c.west);
\draw[ed] (n1242.south) |- (n1411c.west);
\draw[ed] (n3032.east) -| (n1297c.north);
\draw[ed] (n1151bc.west) -| (n1145bc.north);
\draw[ed] (n1987c.south) |- (n1469b.west);
\draw[ed] (n1351c.east) -| (c1351) -| (n1115c.south);
\draw[ed] (n4030.south) |- (n2571c.east);
\draw[ed] (n2530.south) |- (n2174c.east);
\draw[ed] (n2174c.east) -| (n1982.north);
\draw[ed] (n1982.east) -| (n2532.north);
\draw[ed] (n2532.east) -| (n2527.north);
\draw[ed] (n2527.east) -| (n2540.north);
\draw[ed] (n3061c.west) -| (n3060b.north);
\draw[ed] (n3060b.south) |- (n3064b.east);
\draw[ed] (n3064b.west) -| (n3208.north);
\draw[ed] (n4026.south) |- (n3673.east);
\draw[ed] (n3287.east) -- (n3647.west);
\draw[ed] (bus18) -| (n1995bc.north);
\draw[ed] (bus18) |- (n1249.east);
\foreach \a in {n1436,n1906,n1910a,n1439a,n2149c,n2521,n2149a,n1917ac,n1933c,n1469a,n2507,n1930c} {\draw[ed] (\a.south) |- (n1426c.west);}
\foreach \a in {n1929b,n1931,n4041,n2137a,n2100a,n1409c} {\draw[ed] (\a.south) |- (n1426c.east);}
% elbow edges
\foreach \a/\b in {n1109c/n1141b,n1141b/n1149b,n1149b/n1152b,n1152b/n1161b,n1161b/n4044,n1268/n4044,n1109c/n1268,n1109c/n1235b,n1235b/n4035,n4035/n1266c,n1266c/n1234,n1266c/n1258,n1266c/n1202,n1266c/n1303,n1234/n1256c,n1258/n1256c,n1202/n1256c,n1303/n1256c,n1256c/n1317,n1317/n1343c,n1343c/n1353c,n1353c/n1404,n1404/n1418,n1418/n1128c,
n1139c/n1151,n1139c/n1270,n1139c/n1250,n1151/n1173,n1173/n1176,n1176/n1244c,n1250/n1244c,n1270/n1263,n1263/n1244c,
n3063c/n3065,n3063c/n3064,n3065/n3068,n3069c/n3066c,
n3051c/n3028,n3010c/n3022,n3028/n3029c,n3022/n3029c,n3029c/n3051,n3051/n3054,n3054/n3052,n3052/n3050,n3050/n3002b,n3021/n3002b,n3002b/n3030,
n1101/n1108bc,n1108bc/n1110c,n1110c/n1109cb,n1109cb/n1113c,n1113c/n1114c,n1114c/n1155,n1155/n1117c,n1117c/n1118c,n1118c/n1121,n1121/n1132c,n1132c/n1184c,n1184c/n1185c,n1185c/n1203,n1185c/n1180,n1203/n1253,n1253/n1188c,n1180/n1188c,n1188c/n1188X,n1188X/n1411c,n1411c/n4033,n4033/n4030,
n3000c/n3002,n3000c/n3004c,n3004c/n2563,n2563/n3005,n3005/n3006,n3004/n3020,n2565c/n3060,n3060/n3096,n3096/n3097,n3668/n3000c,n3674/n2565c,n3030c/n3032,n1120/n1285c,n1111/n1285c,n1110c/n1107c,n1285c/n1102c,n1107c/n1115c,n1109c/n3051c,n1109c/n3010c,n1109c/n1101}
{\lnk{\a}{\b}}
\foreach \a/\b in {n1244c/n1401b,n1244c/n1264X1,n1244c/n2138b,n1244c/n1996,n1244c/n2130b,n1244c/n1990bc,n1244c/n4045,n1244c/n1367bc,n1244c/n2145d,
n1401b/n1401d,n1401d/n1408b,n1401d/n1375,n1408b/n1408a,n1264X1/n1266cb,n1266cb/n1365,n1365/n1363c,n4045/n1358,n1358/n1370c,n1375/n1358,n2138b/n2136a,n2145d/n2145c,n2145c/n2155,n2155/n2145bc,n1996/n1997,n1997/n1474c,n2130b/n2130c,n2130c/n1474c,n1990bc/n1990cc,n1990cc/n1996bc,n1996bc/n1990ac,n1990ac/n2172d,n1990ac/n2560,n2560/n4042,n1367bc/n1367ac,n1367ac/n1377,n1363c/n1391,n1363c/n1392,n1370c/n4043,n1136/n1268bc,n1134c/n4036,n4036/n4047,
n1249/n1357,n1357/n1360c,n1360c/n1360b,n1360b/n1360a,n1995bc/n1995ac,n1995bc/n1362,n1362/n1479,n1362/n1932c,n1932c/n2157,n1479/n1313,n1995ac/n1364,n1995ac/n1470c,n1995ac/n1382,n1364/n1405,n1470c/n1929,n1382/n1368,n1313/n1944,n1405/n1447,n1929/n1949c,n1944/n1432c,n1944/n2100,n1368/n1360,n2157/n2139}
{\lnk{\a}{\b}}
\foreach \a/\b in {n1447/n1466,n1949c/n1399,n1432c/n1489,n1432c/n1448,n1432c/n1403c,n2100/n2104,n2139/n1469c,n1360/n1378,n1378/n1379,n1379/n1454,n1454/n1310,n1310/n1477,n1477/n1450,n1450/n1452c,n1452c/n1472,n1472/n1496,n1496/n1912,n1912/n1964,n1964/n1950,n1950/n1942c,n1942c/n1369X1b,n1369X1b/n1930c,n1466/n1399,n1915/n1916,n1916/n1947,n1489/n1485,n1485/n1960,n1960/n1945c,n1945c/n1987c,n1947/n1987c,n2104/n2102,n2102/n2109,n2109/n1987c,n1403c/n1921,n1469c/n1956c,n1921/n1923c,n1923c/n1922c,n1922c/n1925c,n1956c/n1961c,n1961c/n1948c,n1937/n1926,n1926/n1946,n1948c/n1946,n1946/n1975,n1975/n1977,n1977/n1469b,n1469b/n1469d,n1469d/n1469a,n1399/n1965,n1399/n1949ad,n1965/n1963,n1963/n1967,n1967/n1968,n1968/n1927c,n1927c/n1917bc,n1949ad/n1993,n1993/n1995,n1995/n2116,n1917bc/n1978,n1978/n1988,n1988/n2114,n2114/n2115,n2115/n2117,n2117/n1917ac,n1917bc/n2121,n2121/n2118b,n2118b/n2550,n2550/n1917ac,n1987c/n1933c,n2520/n2521,n2105/n2136,n2136/n2504,n2504/n2141,n1439c/n1439b,n1439b/n1439a}
{\lnk{\a}{\b}}
\foreach \a/\b in {n1145bc/n1150bc,n1150bc/n1196c,n1150bc/n1161bc,n1150bc/n1222,n1150bc/n1223,n1196c/n1198,n1196c/n1314,n1161bc/n1165,n1222/n1222X,n1223/n1222X,n1314/n1325c,n1325c/n1318c,n1318c/n1392c,n1198/n1392c,n1165/n1156c,n1156c/n1392c,n1392c/n1328bc,n1392c/n1190bc,n1392c/n1204c,n1392c/n1416p,n1328bc/n1230ac,n1190bc/n1195c,n1204c/n1415,n1425p/n1421,n1415/n1414,n1230ac/n1417c,n1195c/n1417c,n1414/n1417c,n1416p/n1452,n1452/n1902,n1902/n1903,n2125/n1903,n1417c/n1429b,n1429b/n1900,n1429b/n1430,n1900/n1901,n1901/n1905,n1905/n1907,n1907/n1906,n1430/n1435,n1435/n1429a,n1903/n1904,n1904/n1910b,n1904/n2149b,n1904/n1439d,n1910b/n1910a,n2149b/n2149a,n1439d/n1439a,n1421/n1436,n1222X/n1204c}
{\lnk{\a}{\b}}
\foreach \a/\b in {n1268bc/n1369ac,n1369ac/n1294c,n1294c/n1366c,n1366c/n1363b,n1369ac/n1369bc,n1369bc/n1369a,n1369bc/n1369X1,n1369a/n1363b,n1369X1/n1363b,n1377/n1369b,n1369b/n2142,n2142/n2108b,n1392/n1360cc,n1360cc/n1371c,n1371c/n1382b,n1382b/n1363b,n1363b/n1416,n1416/n1367,n1367/n1372c,n1367/n1458,n1367/n1462,n1367/n1460b,n1302/n1287c,n1372c/n1464,n1372c/n1425,n1372c/n1426,n1464/n1424,n1425/n1424,n1458/n1983,n1424/n1335c,n1335c/n2118,n1983/n2156,n1983/n2126,n1983/n1989,n2156/n1983b,n1983b/n2120,n2120/n2124,n2126/n2124,n1989/n2124,n2124/n2109b,n2109b/n2175,n2175/n2105b,n2175/n2506,n2175/n1959a,n1462/n1473c,n2110/n1441bc,n1441bc/n1441ac,n2108b/n2100a,n2137b/n2137a,n2169/n2176,n2176/n2526,n2526/n1426c,n1441ac/n1426c}
{\lnk{\a}{\b}}
\foreach \a/\b in {n4047/n1342c,n1342c/n1256,n1342c/n1264,n1342c/n1402,n1256/n1261,n1261/n1305,n1298/n1305,n1264/n1298,n1305/n1322,n1322/n1325,n1325/n1288,n1325/n1326c,n1288/n1309c,n1309c/n1348,n1348/n1330,n1330/n1402b,n1402b/n1422bc,n1422bc/n1328,n1328/n1453,n1453/n2106,n1453/n1470bc,n1326c/n1327b,n1327b/n1327a,n1327a/n1349,n1349/n1423,n1423/n1471,n1471/n1480,n1480/n1470bc,n1470bc/n1461b,n1461b/n1460,n2106/n1446,n1446/n1447b,n1447b/n1471ac,n1471ac/n1931,n1471ac/n1929b,n1402/n1406,n1402/n1373c,n1406/n1461,n1373c/n1391b,n1461/n1483,n1461/n1482,n1482/n1459,n1391b/n1459,n1459/n1304,n1304/n1911,n1304/n1408,n1408/n1412,n4040/n1483,n1285/n1914b,n1285/n1285X,n1285X/n1909c,n1909c/n2128bc,n1909c/n1910,n2128bc/n2120bc,n2120bc/n2173,n2120bc/n2134,n2173/n2177,n2177/n2178,n2178/n2179,n2144/n2145cc,n2145cc/n2513,n1936/n1951c,n1936/n1940c,n1940c/n1936c,n1936c/n2131c,n2131c/n2131b,n2131b/n2131a,n2131a/n2148c,n1951c/n1918b,n1918b/n1918a,n1918a/n1941,n1941/n2148c,n1906b/n1906a,n1906a/n2148c,n1257c/n1936,n2145bc/n2145ac,n1426c/n2184,n1426c/n2505,n1426c/n2192,n2184/n2188,n2188/n2501,n2505/n2502,n2502/n2511,n1426c/n2510,n2192/n2197,n2513/n2514,n2148c/n2150c,n1426c/n2513,n2197/n2501,n2514/n2528,n2528/n2529,n2529/n2530}
{\lnk{\a}{\b}}
\foreach \a/\b in {n1297c/n1306,n1297c/n1323,n1297c/n1320,n1297c/n1297X,n1320/n1340,n1340/n2525,n1306/n3045,n2525/n2524,n2524/n2519,n1102c/n1115c,n1102c/n1143,n1245/n1272,n1115c/n4046,n1115c/n1355d,n1115c/n1133,n1115c/n1121c,n1115c/n1125,n1355d/n1156X2c,n1156X2c/n1998ac,n1998bc/n1998ac,n1996c/n1998bc,n1133/n1122c,n1121c/n1122c,n1125/n1146c,n1146c/n1154,n1154/n1157,n1157/n1175,n1175/n1181c,n1181c/n1183,n1183/n1187,n1187/n1189c,n1189c/n1182X,n1189c/n4034,n1140/n1182X,n1143/n1150,n1150/n1201,n1201/n1214c,n1214c/n1281X,n1272/n1276,n1276/n1269,n1269/n1281,n1281/n1278,n1278/n1214X,n1214X/n1221c,n1221c/n1225c,n1225c/n1227c,n1227c/n1226,n1227c/n4032b,n4032b/n4032a,n4032a/n4031,n1182X/n1410ic,n1281X/n1410ic,n1410ic/n1410bc,n4034/n1410bc,n1410bc/n1410ac,n1410ac/n2160c,n1189c/n4029,n4029/n2571c,n4031/n2571c,n1442/n1445,n1445/n2160c,n2100b/n1952c,n1952c/n2128c,n2128c/n2152,n2128c/n2129,n2129/n2150c,n1122c/n1182X}
{\lnk{\a}{\b}}
\foreach \a/\b in {n2181/n2174c,n2501/n2174c,n2160c/n1383c,n1383c/n2526b,n1383c/n1357b,n1357b/n2528b,n2528b/n2508,n2526b/n2508,n2540/n2162c,n2162c/n2502c,n2162c/n2534,n2502c/n2508,n2541/n3040,n3040/n2508,n2586c/n3071,n3071/n2508,n2586c/n3604,n2571c/n2586c,n3604/n3603,n3603/n3605,n3605/n3606,n3606/n3608,n3606/n3649,n3649/n3642X,n2508/n3069,n2508/n3075,n3075/n3076,n3076/n3070,n3069/n3070,n3070/n3071b,n3071b/n3072,n3072/n3061c,n3061c/n3049c,n3061c/n3065b,n3061c/n3066cb,n3049c/n3050c,n3050c/n3087c,n3087c/n3098c,n3098c/n3203c,n3203c/n3211c,n3211c/n3217,n3217/n3247,n3247/n3256c,n3065b/n3068b,n3068b/n3222,n3222/n3229,n3229/n3256c,n3066cb/n3091c,n3091c/n3223c,n3223c/n3224c,n3224c/n3227c,n3227c/n3230cb,n3230cb/n3246,n3246/n3256c,n2508/n3209t,n3045/n1306X1,n1306X1/n2519,n2519/n2531,n2519/n2541b,n3209t/n3039c,n3039c/n3031c,n3031c/n3036c,n3036c/nF224,n3036c/n3004cb,n2531/n2537,n2537/n3058c,n2541b/n3058c,n1396c/n2549,n1396c/n2557,n2557/n2558,n2558/n2508,n3208/n3209,n3209/n3210,n3210/n2562c,n2549/n2508}
{\lnk{\a}{\b}}
\foreach \a/\b in {n3256c/n3244,n3256c/n3250,n3256c/n3251,n3256c/n3275,n3256c/n3285X1,n3256c/n3612,n3256c/n3601,n3256c/n3646,n3256c/n3653,n3256c/n3654,n3256c/n3266,n3256c/n3643,n3256c/n3248,n3256c/n3657,n3256c/n3281,n3256c/n3290,n3256c/n3257c,n3256c/n3259,n3256c/n3614,n3256c/n3652,n3256c/n3274,n3256c/n3601c,n3256c/n3662,n3256c/n3661,n3256c/n3287,
n3244/n3243,n3250/n3256,n3251/n3258,n3657/n3667,n3667/n3642X,n2562c/n3268,n2562c/n3641,n2562c/n3230c,n3268/n3276c,n3276c/n3284,n3230c/n3228c,n3230c/n3662b,n3228c/n3286,n3228c/n3613c,n3286/n3296,n3613c/n3610X,n3613c/n3291c,n3662b/n3291c,n3243/n3297,n3297/n3638c,n3638c/n3291c,n3661/n3291c,n3291c/n3603c,n3603c/n3053,n3053/n4007b,n3256/n3259b,n3259b/n3600,n3258/n3655,n3655/n3654b,n3655/n3623,n3290/n3645,n3257c/n3645,n3259/n3645,n3281/n3287t,n3287t/n3673,n3287t/n3244b,n3614/n3615,n3652/n4026,n3673/n3664b,n3664b/n3665b,n3665b/n3666b,n3666b/n3667b,n3667b/n3668b,n3668b/n3669b,n3669b/n3695,n3287/n3620,n3620/n3280,n3280/n3624,n3626/n3624,n3621/n3624,n3624/n3630,n3630/n3622c,n3624/n3625,n3253/n3624,n3244b/n3253,n3623/n3636,n3636/n3635,n3635/n3634,n3634/n3627,n3627/n3633,n3647/n3648,n3648/n3281X1,n3274/n3283,n3283/n3282,n3282/n3281X1,n3281X1/n3644,n3644/n3670,n3670/n3672,n3601c/n3656,n3601c/n3616c,n3656/n3637b,n3637b/n3698,n3698/n3699,n3699/n4000,n4000/n4004,n4004/n4011,n4011/n4012,n4012/n4013,n4013/n4014,n3662/n3252,n3642X/n3873,n3616c/n4020,n3616c/n3608X1,n3616c/n3619X,n3616c/n4023,n3616c/n4019,n4020/n4025b,n4025b/n4014,n4023/nF224b,nF224b/n4014,n4019/n4014,n4014/n4014X1,
n3873/n3875,n3875/n3877,n3877/n3878,n3878/n3879,n3879/n3881,n3881/n3882,n3882/n3883,n3883/n3890,n3890/n3895,n3895/n4001,n4001/n4002,n4002/n4003,n4003/n4008,n4008/n4009,n4009/n4010,n4010/n4015,n4015/n4016,n4016/n4017,n4017/n4018,n4018/n4021,n4021/n4022,n4022/n4024,n4024/n4025}
{\lnk{\a}{\b}}
\end{pgfonlayer}
\end{tikzpicture}
\end{document}
